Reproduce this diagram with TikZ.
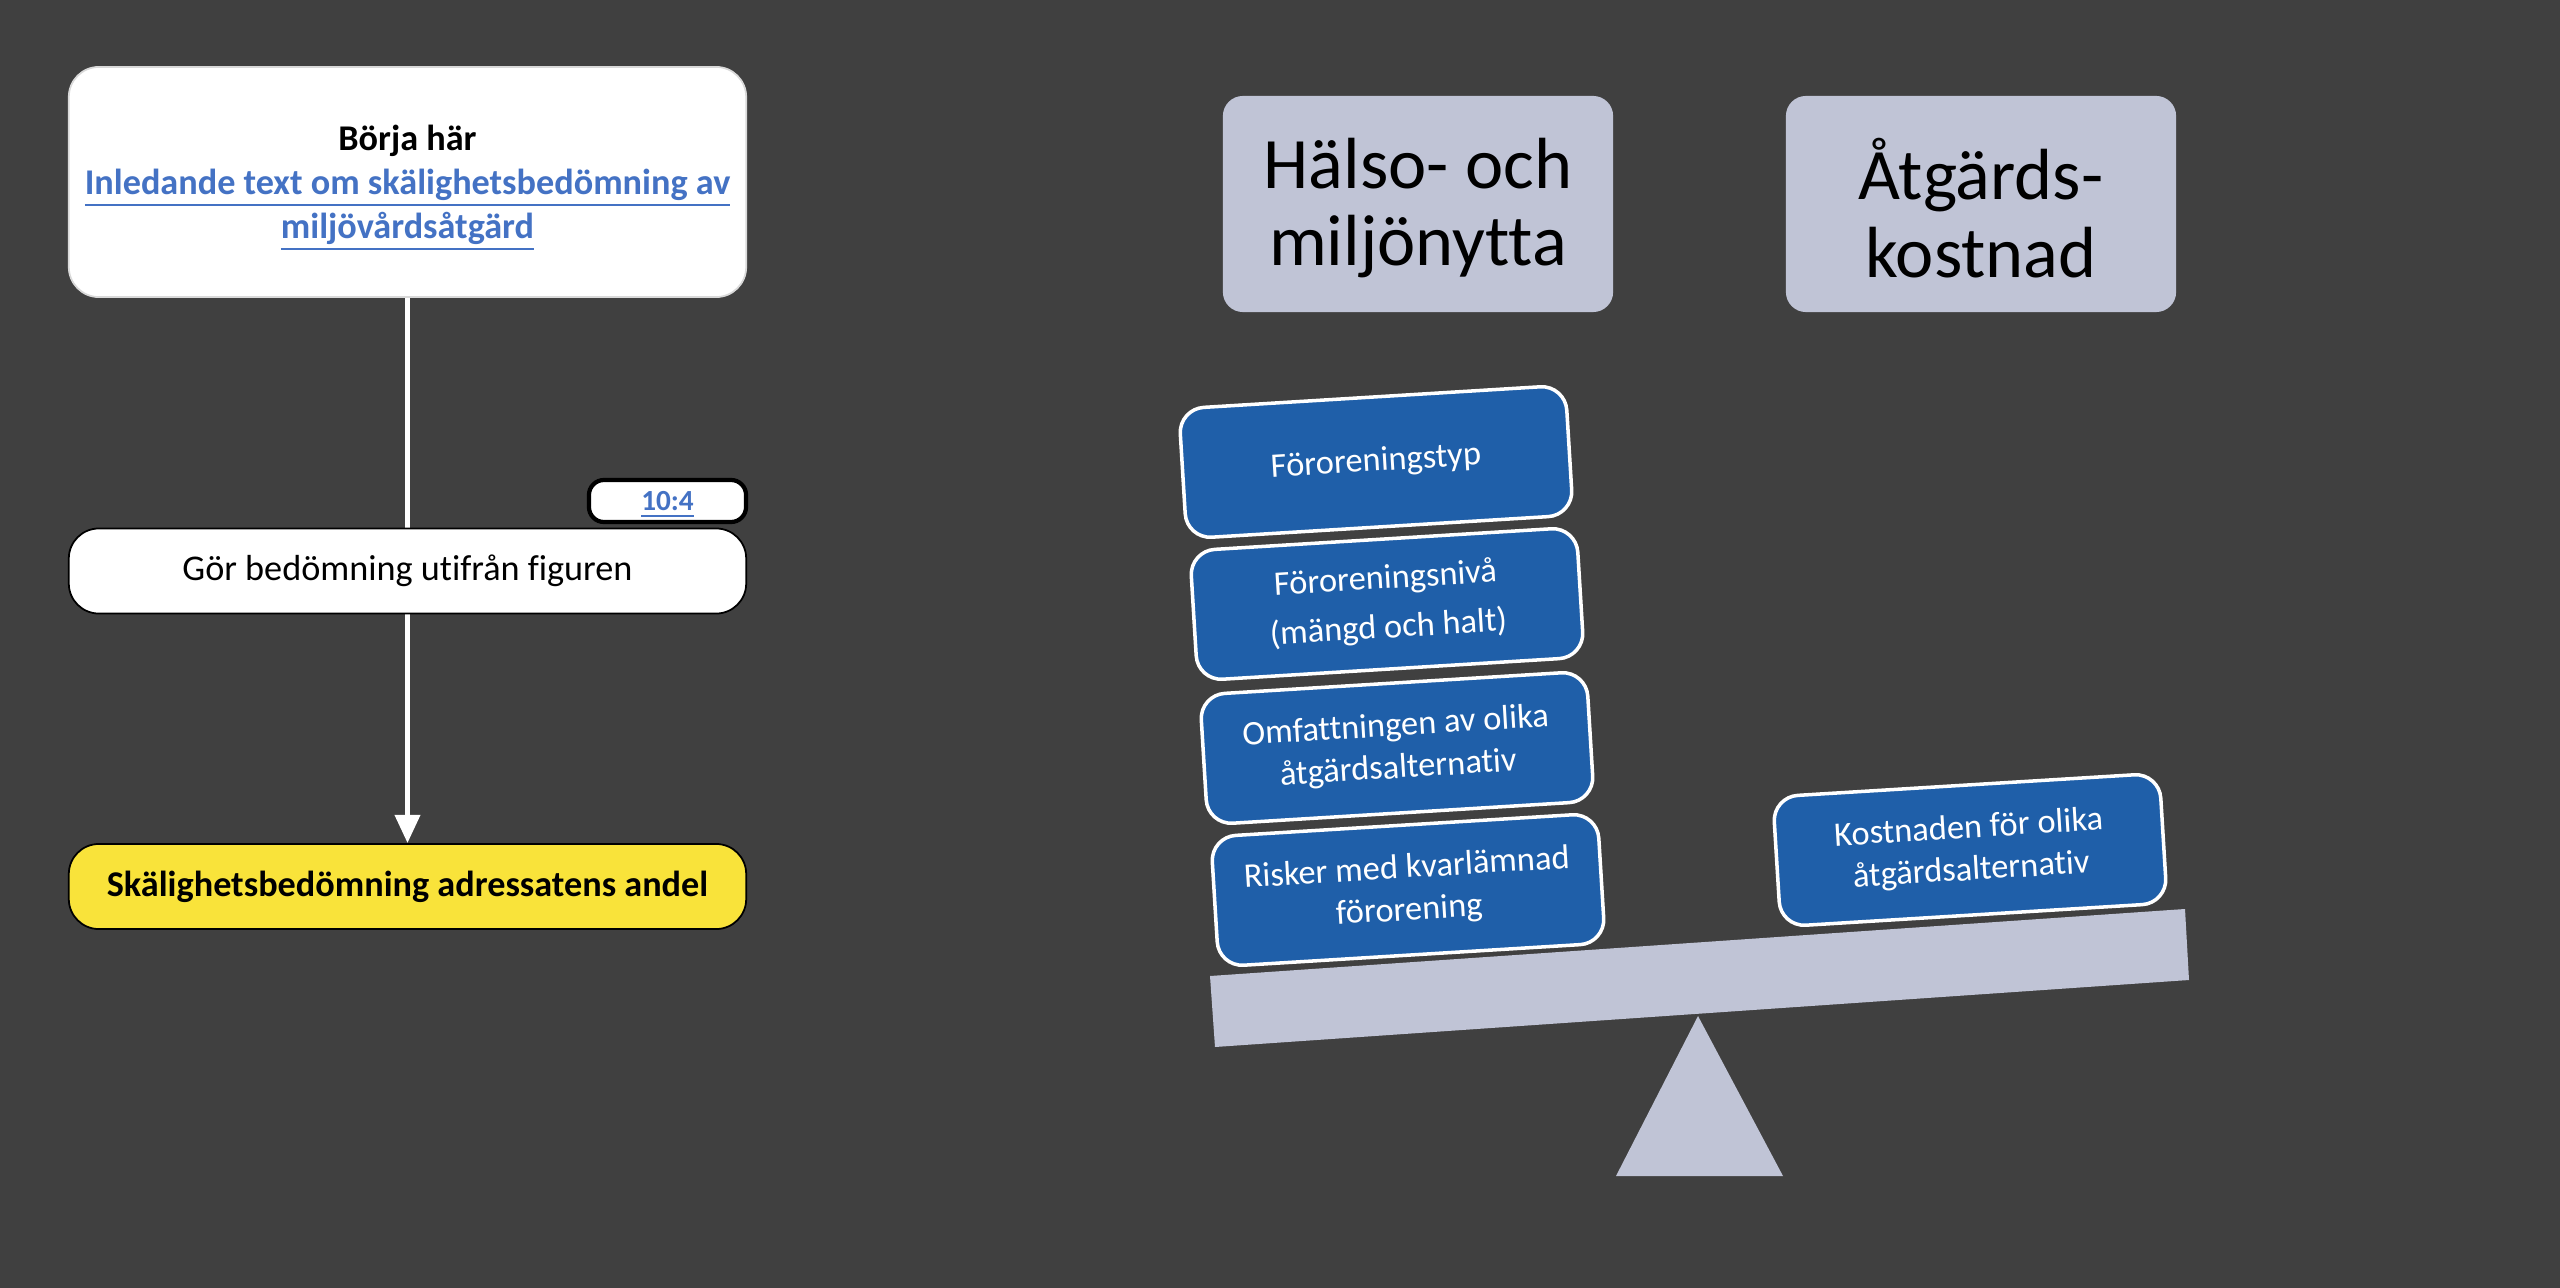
\documentclass[tikz,border=0pt]{standalone}
\usepackage{fontspec}
\setmainfont{Carlito}[Ligatures=NoCommon]
\usetikzlibrary{arrows.meta}
\definecolor{bg}{HTML}{404040}
\definecolor{lav}{HTML}{C0C4D6}
\definecolor{bbox}{HTML}{1F5FA9}
\definecolor{ylw}{HTML}{F9E33A}
\definecolor{lnk}{HTML}{4472C4}
\begin{document}
\begin{tikzpicture}[x=0.01cm,y=-0.01cm,
  flowbox/.style={draw=black, line width=0.5pt, fill=white, rounded corners=0.3cm,
    minimum width=6.77cm, align=center, inner sep=0pt, font=\fontsize{10.3}{12.5}\selectfont},
  topbox/.style={fill=lav, rounded corners=0.2cm, minimum width=3.9cm, minimum height=2.16cm,
    inner sep=0pt},
  toptext/.style={align=center, inner sep=0pt, font=\fontsize{20.6}{22}\selectfont},
  bluebox/.style={fill=bbox, draw=white, line width=1pt, rounded corners=0.25cm,
    minimum width=3.87cm, minimum height=1.30cm, rotate=3.5, text=white, align=center,
    inner sep=0pt, font=\fontsize{9.8}{12}\selectfont},
  scalepart/.style={fill=lav}
]
\fill[bg] (0,0) rectangle (2560,1288);
\useasboundingbox (0,0) rectangle (2560,1288);

% left flow
\node[flowbox, draw=white!85!black, minimum height=2.30cm] (start) at (407.5,182) {};
\node[align=center, inner sep=0pt, font=\fontsize{10.3}{12.5}\selectfont] (starttxt) at (407.5,188)
  {{\bfseries Börja här}\\
   {\bfseries\color{lnk}\underline{Inledande text om skälighetsbedömning av}}\\
   {\bfseries\color{lnk}\underline{miljövårdsåtgärd}}};
\node[flowbox, fill=ylw, minimum height=0.85cm, font=\fontsize{10.3}{12.5}\selectfont\bfseries] (yel) at (407.5,886.5)
  {Skälighetsbedömning adressatens andel};
\draw[white, line width=1.4pt, -{Triangle[width=7pt,length=8pt]}] (start.south) -- (yel.north);
\node[flowbox, minimum height=0.85cm] (gor) at (407.5,571) {Gör bedömning utifrån figuren};
\node[flowbox, line width=1.2pt, rounded corners=0.15cm, minimum width=1.57cm, minimum height=0.42cm] (ref) at (667.5,501) {};
\node[inner sep=0pt, font=\fontsize{8.3}{10}\selectfont\bfseries] (reftxt) at (667.5,505) {\color{lnk}\underline{10:4}};

% top boxes
\node[topbox] (halsa) at (1418,204) {};
\node[toptext] (halsatxt) at (1418,208) {Hälso- och\\miljönytta};
\node[topbox] (kost) at (1981,204) {};
\node[toptext] (kosttxt) at (1981,208) {Åtgärds-\\kostnad};

% scale
\fill[scalepart] (1210,976) -- (2185,909) -- (2189,980) -- (1215,1047) -- cycle;
\fill[scalepart] (1698,1016) -- (1783,1176) -- (1616,1176) -- cycle;

% blue boxes
\node[bluebox] (b1) at (1376,462) {Föroreningstyp};
\node[bluebox, font=\fontsize{9.8}{14}\selectfont] (b2) at (1387,604) {Föroreningsnivå\\(mängd och halt)};
\node[bluebox] (b3) at (1397,748) {Omfattningen av olika\\åtgärdsalternativ};
\node[bluebox] (b4) at (1408,890) {Risker med kvarlämnad\\förorening};
\node[bluebox] (b5) at (1970,850) {Kostnaden för olika\\åtgärdsalternativ};
\end{tikzpicture}
\end{document}
